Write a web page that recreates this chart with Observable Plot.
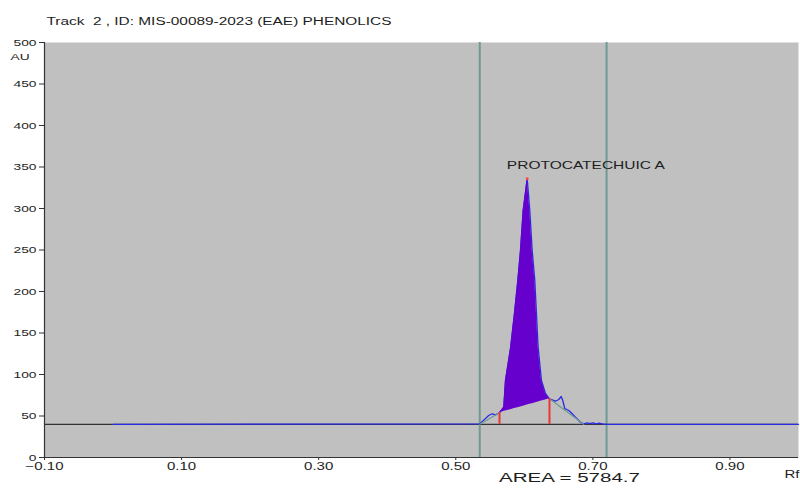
<!DOCTYPE html>
<html>
<head>
<meta charset="utf-8">
<script src="https://cdn.jsdelivr.net/npm/d3@7"></script>
<script src="https://cdn.jsdelivr.net/npm/@observablehq/plot@0.6"></script>
<style>
  html, body { margin: 0; padding: 0; background: #fff; }
  #chart svg { display: block; }
</style>
</head>
<body>
<div id="chart"></div>
<script>
// ---- data ----
const titleText = "Track  2 , ID: MIS-00089-2023 (EAE) PHENOLICS";
const peakLabel = "PROTOCATECHUIC A";
const areaText = "AREA = 5784.7";
const xTicks = [-0.10, 0.10, 0.30, 0.50, 0.70, 0.90];
const yTicks = [0, 50, 100, 150, 200, 250, 300, 350, 400, 450, 500];

// densitogram trace (Rf, AU)
const traceRf = [0.000, 0.535, 0.548, 0.553, 0.558, 0.5638, 0.570, 0.5725, 0.580, 0.5856, 0.5905, 0.5944, 0.5983, 0.6042, 0.6080, 0.6115, 0.6153, 0.6177, 0.6202, 0.6250, 0.6308, 0.6367, 0.6454, 0.6503, 0.6538, 0.6561, 0.6590, 0.6649, 0.6698, 0.6746, 0.6819, 0.6867, 0.692, 0.696, 0.700, 0.705, 0.709, 0.714, 0.720, 1.000];
const traceAU = [40, 40.5, 50.6, 52.7, 51.4, 53.9, 60.6, 92.8, 132.5, 173.5, 213.3, 249.4, 297.6, 335.8, 297.6, 249.4, 213.3, 173.5, 132.5, 92.8, 77.1, 70.7, 67.8, 69.9, 73.5, 68.7, 59.0, 56.6, 52.7, 48.6, 42.5, 40.5, 41.6, 40.8, 41.8, 40.6, 41.3, 40.5, 40, 40];

const baselineAU = 40;
const trackStart = 0.535, trackEnd = 0.720;   // vertical track lines
const peakStart = 0.5638, peakEnd = 0.6367;   // integration limits
const peakTopRf = 0.6042;
const labelRf = 0.5745, labelAU = 352;

// ---- derived tables ----
const trace = traceRf.map((x, i) => ({x, y: traceAU[i]}));
const yStart = traceAU[traceRf.indexOf(peakStart)];
const yEnd = traceAU[traceRf.indexOf(peakEnd)];
const lin = x => yStart + (yEnd - yStart) * (x - peakStart) / (peakEnd - peakStart);
const peakFill = trace.filter(d => d.x >= peakStart && d.x <= peakEnd).map(d => ({x: d.x, y1: lin(d.x), y2: d.y}));
const integLines = [
  [{x: trackStart, y: baselineAU}, {x: peakStart, y: yStart}],
  [{x: peakEnd, y: yEnd}, {x: trace.find(d => d.x > peakEnd && d.y <= 40.5).x, y: baselineAU}]
];

const font = "Liberation Sans, Arial, sans-serif";
const ink = "#1e1e1e";

const chart = Plot.plot({
  width: 800,
  height: 489,
  marginLeft: 44,
  marginRight: 2,
  marginTop: 42,
  marginBottom: 32,
  style: {background: "#fff", fontFamily: font, fontSize: "10px", color: ink},
  x: {domain: [-0.1, 1.0], label: null},
  y: {domain: [0, 500], label: null},
  marks: [
    Plot.frame({fill: "#c0c0c0", stroke: null}),
    Plot.ruleX([trackStart, trackEnd], {stroke: "#6f9a94", strokeWidth: 2}),
    Plot.ruleY([baselineAU], {stroke: "#333", strokeWidth: 1.2}),
    Plot.line(trace, {x: "x", y: "y", stroke: "#2a2ae6", strokeWidth: 1.3}),
    Plot.areaY(peakFill, {x: "x", y1: "y1", y2: "y2", fill: "#6600cc"}),
    ...integLines.map(seg => Plot.line(seg, {x: "x", y: "y", stroke: "#6f9a94", strokeWidth: 1.2})),
    Plot.ruleX([{x: peakStart, y: yStart}, {x: peakEnd, y: yEnd}], {x: "x", y1: baselineAU, y2: "y", stroke: "#ee3333", strokeWidth: 2}),
    Plot.dot([{x: peakTopRf, y: traceAU[traceRf.indexOf(peakTopRf)]}], {x: "x", y: "y", r: 1.5, fill: "#ff4444", stroke: null}),
    Plot.text([peakLabel], {x: labelRf, y: labelAU, textAnchor: "start", fontSize: 10.5, fill: ink}),
    Plot.axisX({ticks: xTicks, tickFormat: d3.format(".2f"), tickSize: 3, tickPadding: 2, fontSize: 10, stroke: "#333"}),
    Plot.axisY({ticks: yTicks, tickSize: 5, tickPadding: 3, fontSize: 9.5, stroke: "#333"}),
    Plot.ruleX([-0.1], {stroke: "#333", strokeWidth: 1.2}),
    Plot.ruleY([0], {stroke: "#333", strokeWidth: 1.2}),
    Plot.text(["AU"], {frameAnchor: "top-left", dx: -34, dy: 11, textAnchor: "start", fontSize: 9.5, fill: ink}),
    Plot.text([titleText], {frameAnchor: "top-left", dx: 2, dy: -25, textAnchor: "start", fontSize: 10, fill: ink}),
    Plot.text([areaText], {frameAnchor: "bottom-left", dx: 525, dy: 24, textAnchor: "middle", fontSize: 12, fill: ink}),
    Plot.text(["Rf"], {frameAnchor: "bottom-right", dx: 1, dy: 20, textAnchor: "end", fontSize: 10, fill: ink})
  ]
});
document.getElementById("chart").appendChild(chart);

// the reference's lettering is horizontally stretched; reproduce with textLength
function stretchTo(el, width) {
  el.setAttribute("textLength", width);
  el.setAttribute("lengthAdjust", "spacingAndGlyphs");
}
function stretchBy(el, k) {
  stretchTo(el, el.getComputedTextLength() * k);
}
const svg = d3.select(chart);
svg.selectAll("text").each(function() {
  const t = this.textContent;
  if (t === titleText) stretchTo(this, 345);
  else if (t === peakLabel) stretchTo(this, 158);
  else if (t === areaText) stretchTo(this, 141);
  else if (t === "AU") stretchBy(this, 1.45);
  else if (t === "Rf") stretchBy(this, 1.5);
});
svg.selectAll('g[aria-label="x-axis tick label"] text').each(function() { stretchBy(this, 1.5); });
svg.selectAll('g[aria-label="y-axis tick label"] text').each(function() { stretchBy(this, 1.45); });
</script>
</body>
</html>
